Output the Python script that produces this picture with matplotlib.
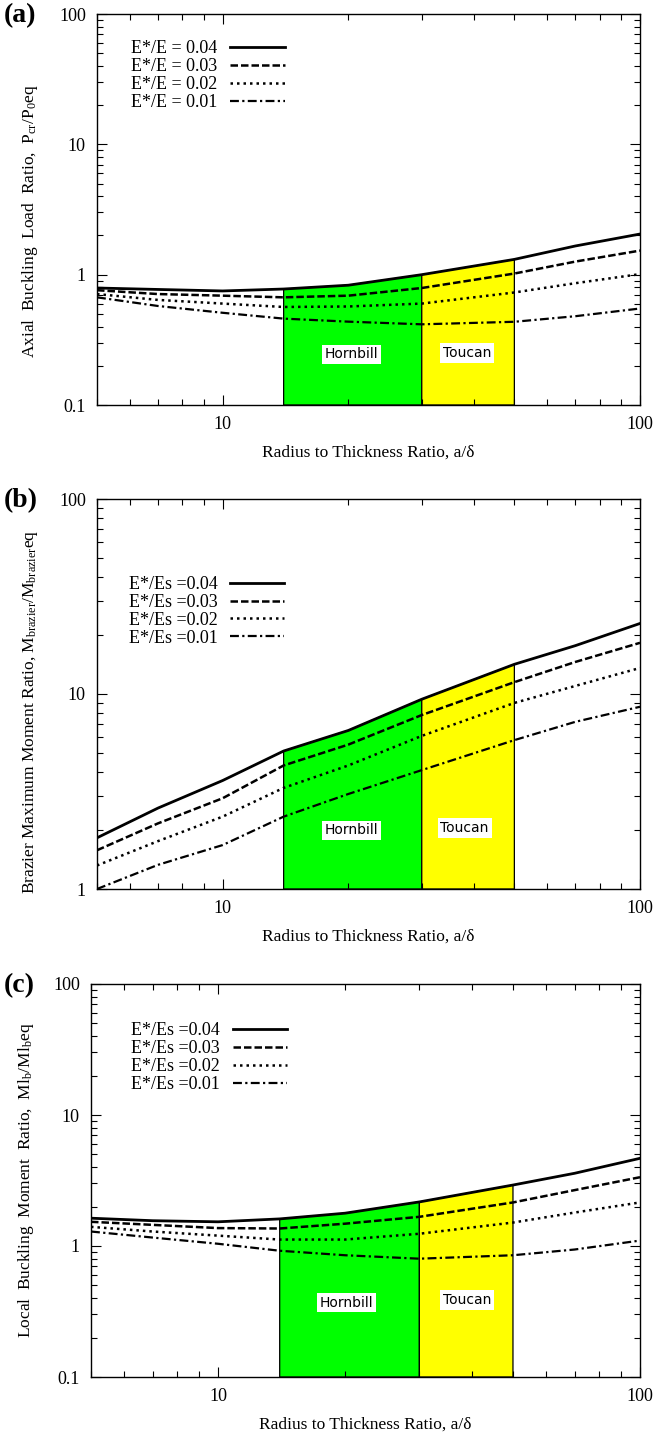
import numpy as np
import matplotlib
matplotlib.use("Agg")
import matplotlib.pyplot as plt
from matplotlib.ticker import LogLocator, NullFormatter, FixedLocator, FixedFormatter

plt.rcParams['font.family'] = ['Liberation Serif', 'DejaVu Serif']
plt.rcParams['mathtext.fontset'] = 'custom'
plt.rcParams['mathtext.rm'] = 'Liberation Serif'
plt.rcParams['mathtext.it'] = 'Liberation Serif:italic'

# ---- data ----
ratio = [5, 7, 10, 14, 20, 30, 50, 70, 100]

axial_004 = [0.79, 0.77, 0.75, 0.776, 0.83, 1.00, 1.31, 1.66, 2.05]
axial_003 = [0.76, 0.71, 0.69, 0.67, 0.69, 0.79, 1.02, 1.26, 1.53]
axial_002 = [0.71, 0.64, 0.60, 0.565, 0.57, 0.60, 0.73, 0.86, 1.01]
axial_001 = [0.67, 0.575, 0.51, 0.46, 0.436, 0.416, 0.435, 0.48, 0.55]

brazier_004 = [1.83, 2.6, 3.6, 5.1, 6.5, 9.4, 14.2, 17.7, 23.0]
brazier_003 = [1.58, 2.17, 2.92, 4.3, 5.5, 7.8, 11.5, 14.6, 18.3]
brazier_002 = [1.32, 1.76, 2.35, 3.3, 4.3, 6.1, 9.0, 11.0, 13.6]
brazier_001 = [1.0, 1.33, 1.68, 2.35, 3.07, 4.07, 5.8, 7.2, 8.6]

local_004 = [1.63, 1.56, 1.53, 1.61, 1.78, 2.17, 2.92, 3.59, 4.67]
local_003 = [1.53, 1.45, 1.37, 1.36, 1.48, 1.67, 2.15, 2.67, 3.35]
local_002 = [1.40, 1.29, 1.20, 1.12, 1.12, 1.24, 1.51, 1.80, 2.15]
local_001 = [1.29, 1.16, 1.04, 0.92, 0.85, 0.80, 0.85, 0.94, 1.10]

hornbill_range = [14, 30]
toucan_range = [30, 50]

legend_a = ["E*/E = 0.04", "E*/E = 0.03", "E*/E = 0.02", "E*/E = 0.01"]
legend_s = ["E*/Es =0.04", "E*/Es =0.03", "E*/Es =0.02", "E*/Es =0.01"]

styles = ['-', (0, (3, 1.2)), (0, (1, 1.6)), (0, (4, 1.5, 1, 1.5))]
widths = [2.0, 1.8, 1.8, 1.6]

W, H = 670, 1432
fig = plt.figure(figsize=(W / 100, H / 100), dpi=100)

panels = [
    dict(rect=[97, 14, 640, 405], ylim=(0.1, 100), series=[axial_004, axial_003, axial_002, axial_001],
         labels=legend_a, ylabel=r"Axial  Buckling  Load  Ratio,  P$_{\rm cr}$/P$_{\rm 0}$eq", ly=0.47,
         tag="(a)", tagy=3, leg=(0.04, 0.965), lab_h=(20.4, 0.245), lab_t=(38.5, 0.25),
         yticks=[0.1, 1, 10, 100], yticklabels=["0.1", "1", "10", "100"]),
    dict(rect=[97, 499, 640, 889], ylim=(1, 100), series=[brazier_004, brazier_003, brazier_002, brazier_001],
         labels=legend_s, ylabel=r"Brazier Maximum Moment Ratio, M$_{\rm brazier}$/M$_{\rm brazier}$eq", ly=0.455,
         tag="(b)", tagy=488, leg=(0.035, 0.835), lab_h=(20.4, 2.0), lab_t=(38.0, 2.05),
         yticks=[1, 10, 100], yticklabels=["1", "10", "100"]),
    dict(rect=[91, 984, 640, 1377], ylim=(0.1, 100), series=[local_004, local_003, local_002, local_001],
         labels=legend_s, ylabel=r"Local  Buckling  Moment  Ratio,  Ml$_{\rm b}$/Ml$_{\rm b}$eq", ly=0.5,
         tag="(c)", tagy=973, leg=(0.05, 0.935), lab_h=(20.2, 0.37), lab_t=(38.9, 0.387),
         yticks=[0.1, 1, 10, 100], yticklabels=["0.1", "1", "10", "100"]),
]

x = np.array(ratio, dtype=float)

for p in panels:
    l, t, r, b = p['rect']
    ax = fig.add_axes([l / W, 1 - b / H, (r - l) / W, (b - t) / H])
    ax.set_xscale('log')
    ax.set_yscale('log')
    ax.set_xlim(5, 100)
    ax.set_ylim(*p['ylim'])

    top = np.array(p['series'][0], dtype=float)
    for rng, col in [(hornbill_range, '#00ff00'), (toucan_range, '#ffff00')]:
        m = (x >= rng[0]) & (x <= rng[1])
        xs = x[m]
        ys = top[m]
        poly_x = np.concatenate([[xs[0]], xs, [xs[-1]]])
        poly_y = np.concatenate([[p['ylim'][0]], ys, [p['ylim'][0]]])
        ax.fill(poly_x, poly_y, facecolor=col, edgecolor='black', linewidth=0.9, zorder=1)

    handles = []
    for s, ls, lw in zip(p['series'], styles, widths):
        h, = ax.plot(x, s, color='black', linestyle=ls, linewidth=lw, zorder=3)
        handles.append(h)

    box = dict(facecolor='white', edgecolor='none', pad=2)
    ax.text(p['lab_h'][0], p['lab_h'][1], "Hornbill", family=['DejaVu Sans'], fontsize=10,
            ha='center', va='center', bbox=box, zorder=4)
    ax.text(p['lab_t'][0], p['lab_t'][1], "Toucan", family=['DejaVu Sans'], fontsize=10,
            ha='center', va='center', bbox=box, zorder=4)

    ax.legend(handles, p['labels'], loc='upper left', bbox_to_anchor=p['leg'],
              frameon=False, markerfirst=False, handlelength=3.0, fontsize=13,
              labelspacing=0.05, handletextpad=0.7, borderpad=0.2)

    ax.xaxis.set_major_locator(FixedLocator([10, 100]))
    ax.xaxis.set_major_formatter(FixedFormatter(["10", "100"]))
    ax.xaxis.set_minor_locator(LogLocator(base=10, subs=np.arange(2, 10)))
    ax.xaxis.set_minor_formatter(NullFormatter())
    ax.yaxis.set_major_locator(FixedLocator(p['yticks']))
    ax.yaxis.set_major_formatter(FixedFormatter(p['yticklabels']))
    ax.yaxis.set_minor_locator(LogLocator(base=10, subs=np.arange(2, 10)))
    ax.yaxis.set_minor_formatter(NullFormatter())
    ax.tick_params(which='both', direction='in', top=True, right=True, width=0.8)
    ax.tick_params(which='major', length=7, labelsize=13, pad=8)
    ax.tick_params(which='minor', length=4)
    for sp in ax.spines.values():
        sp.set_linewidth(1.0)

    ax.set_xlabel("Radius to Thickness Ratio, a/δ", fontsize=12.5, labelpad=8)
    ax.set_ylabel(p['ylabel'], fontsize=12.5)
    ax.yaxis.set_label_coords(-0.105 if l == 97 else -0.1, p['ly'])

    fig.text(4 / W, 1 - p['tagy'] / H, p['tag'], fontsize=20, fontweight='bold',
             ha='left', va='top')

fig.savefig("out.png", dpi=100)
